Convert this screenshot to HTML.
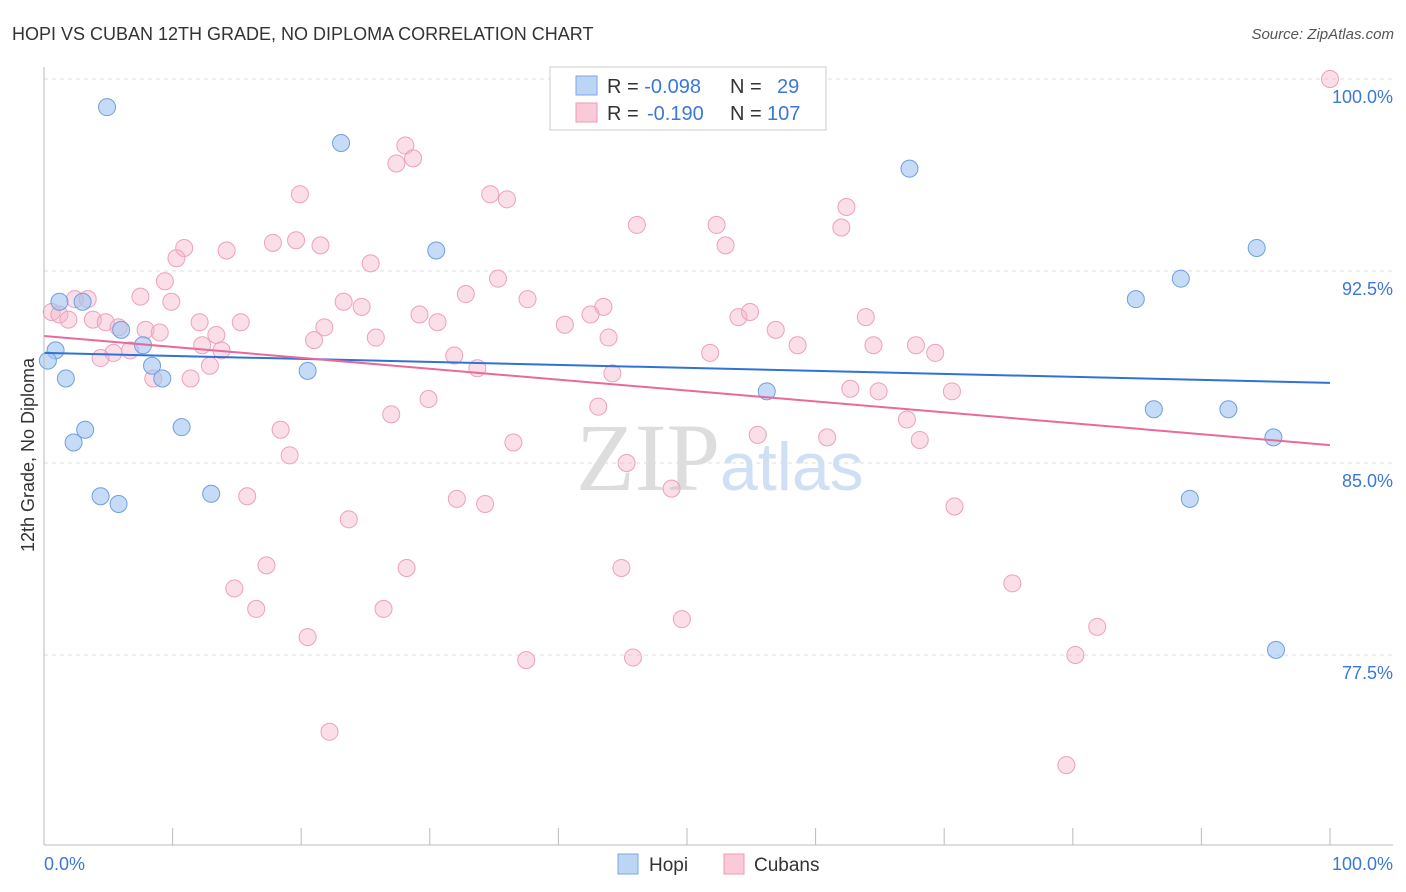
<!DOCTYPE html>
<html><head><meta charset="utf-8"><style>
body{margin:0;background:#fff;font-family:"Liberation Sans",sans-serif;}
svg{display:block}
</style></head><body>
<svg id="c" width="1406" height="892">
<text x="12" y="40" font-size="18" fill="#333">HOPI VS CUBAN 12TH GRADE, NO DIPLOMA CORRELATION CHART</text>
<text x="1394" y="39" font-size="15" fill="#555" font-style="italic" text-anchor="end">Source: ZipAtlas.com</text>
<text x="720" y="490" font-size="96" fill="#ddd" text-anchor="end" font-family="Liberation Serif">ZIP</text>
<text x="720" y="490" font-size="68" fill="#cfe0f5">atlas</text>
<text transform="translate(34,455) rotate(-90)" font-size="18" fill="#333" text-anchor="middle">12th Grade, No Diploma</text>
<g id="grid"></g><g id="pts"></g><g id="lines"></g>
<line x1="44" y1="67" x2="44" y2="845" stroke="#bbb"/>
<line x1="44" y1="845" x2="1393" y2="845" stroke="#bbb"/>
<text x="44" y="870" font-size="18" fill="#3b78d6">0.0%</text>
<text x="1393" y="870" font-size="18" fill="#3b78d6" text-anchor="end">100.0%</text>
<g>
<rect x="550" y="67" width="276" height="63" fill="#fff" stroke="#ccc"/>
<rect x="576" y="76" width="21" height="19" fill="#bcd5f5" stroke="#7aa7e6"/>
<rect x="576" y="103" width="21" height="19" fill="#fbcad8" stroke="#ef9ab5"/>
<text x="607" y="93" font-size="20" fill="#333">R = <tspan fill="#3b78d6">-0.098</tspan><tspan x="730">N = </tspan><tspan x="777" fill="#3b78d6">29</tspan></text>
<text x="607" y="120" font-size="20" fill="#333">R = <tspan x="647" fill="#3b78d6">-0.190</tspan><tspan x="730">N = </tspan><tspan x="767" fill="#3b78d6">107</tspan></text>
</g>
<g>
<rect x="618" y="854" width="20" height="20" fill="#bcd5f5" stroke="#7aa7e6"/>
<text x="649" y="871" font-size="19" fill="#333">Hopi</text>
<rect x="724" y="854" width="20" height="20" fill="#fbcad8" stroke="#ef9ab5"/>
<text x="754" y="871" font-size="19" fill="#333">Cubans</text>
</g>
</svg>
<script>
const yTicks=[100,92.5,85,77.5];
const yTickLabels=["100.0%","92.5%","85.0%","77.5%"];
const xTicks=[0,10,20,30,40,50,60,70,80,90,100];
const hopiX=[4.9,23.1,67.3,30.5,94.3,88.4,84.9,1.2,3.0,6.0,7.7,0.9,0.3,1.7,8.4,9.2,20.5,56.2,86.3,92.1,95.6,3.2,2.3,10.7,4.4,5.8,13.0,89.1,95.8];
const hopiY=[98.9,97.5,96.5,93.3,93.4,92.2,91.4,91.3,91.3,90.2,89.6,89.4,89.0,88.3,88.8,88.3,88.6,87.8,87.1,87.1,86.0,86.3,85.8,86.4,83.7,83.4,83.8,83.6,77.7];
const cubX=[100,28.1,27.4,28.7,19.9,34.7,36.0,62.4,46.1,52.3,62.0,53.0,10.9,14.2,17.8,19.6,21.5,10.3,25.4,35.3,9.4,7.5,9.9,2.4,3.4,32.8,23.3,24.7,37.6,43.5,0.6,1.2,1.9,3.8,4.8,12.1,15.3,29.2,30.6,40.5,42.5,54.0,54.9,63.9,21.8,5.8,7.9,9.0,13.4,25.8,43.9,56.9,21.0,12.3,13.8,6.7,5.4,4.4,58.6,64.5,67.8,69.3,51.8,31.9,33.7,44.2,8.5,11.4,12.9,62.7,64.9,70.6,29.9,27.0,43.1,67.1,18.4,36.5,55.5,60.9,68.1,19.1,45.3,48.8,15.8,32.1,34.3,70.8,23.7,17.3,28.2,44.9,14.8,75.3,16.5,26.4,49.6,20.5,81.9,37.5,45.8,80.2,22.2,79.5];
const cubY=[100,97.4,96.7,96.9,95.5,95.5,95.3,95.0,94.3,94.3,94.2,93.5,93.4,93.3,93.6,93.7,93.5,93.0,92.8,92.2,92.1,91.5,91.3,91.4,91.4,91.6,91.3,91.1,91.4,91.1,90.9,90.8,90.6,90.6,90.5,90.5,90.5,90.8,90.5,90.4,90.8,90.7,90.9,90.7,90.3,90.3,90.2,90.1,90.0,89.9,89.9,90.2,89.8,89.6,89.4,89.4,89.3,89.1,89.6,89.6,89.6,89.3,89.3,89.2,88.7,88.5,88.3,88.3,88.8,87.9,87.8,87.8,87.5,86.9,87.2,86.7,86.3,85.8,86.1,86.0,85.9,85.3,85.0,84.0,83.7,83.6,83.4,83.3,82.8,81.0,80.9,80.9,80.1,80.3,79.3,79.3,78.9,78.2,78.6,77.3,77.4,77.5,74.5,73.2];
const hopiTrend=[89.30,88.13];
const cubTrend=[89.96,85.70];
const X=v=>44+v*12.86, Y=v=>79+(100-v)*25.6;
const NS="http://www.w3.org/2000/svg";
function mk(tag,attrs,parent){const e=document.createElementNS(NS,tag);for(const k in attrs)e.setAttribute(k,attrs[k]);parent.appendChild(e);return e;}
const grid=document.getElementById('grid');
yTicks.forEach((t,i)=>{
 const l=mk('line',{x1:44,x2:1393,y1:Y(t),y2:Y(t),stroke:'#ddd','stroke-dasharray':'4,4'},grid);
 
 
 const tx=mk('text',{x:1393,y:Y(t)+24,'font-size':18,fill:'#3b78d6','text-anchor':'end'},grid);
 tx.textContent=yTickLabels[i];
 
 
});
xTicks.forEach(t=>{
 const l=mk('line',{x1:X(t),x2:X(t),y1:828,y2:845,stroke:'#bbb'},grid);
 
 
});
const pts=document.getElementById('pts');
cubX.forEach((v,i)=>{
 const c=mk('circle',{cx:X(v),cy:Y(cubY[i]),r:8.5,fill:'rgba(246,176,198,0.4)',stroke:'#eea0ba','stroke-width':1},pts);
 
 
});
hopiX.forEach((v,i)=>{
 const c=mk('circle',{cx:X(v),cy:Y(hopiY[i]),r:8.5,fill:'rgba(160,196,240,0.6)',stroke:'#6f9fe0','stroke-width':1},pts);
 
 
});
const lines=document.getElementById('lines');
const h=mk('line',{x1:X(0),y1:Y(hopiTrend[0]),x2:X(100),y2:Y(hopiTrend[1]),stroke:'#2f72d8','stroke-width':2},lines);


const cl=mk('line',{x1:X(0),y1:Y(cubTrend[0]),x2:X(100),y2:Y(cubTrend[1]),stroke:'#e8699a','stroke-width':2},lines);


</script>
</body></html>
